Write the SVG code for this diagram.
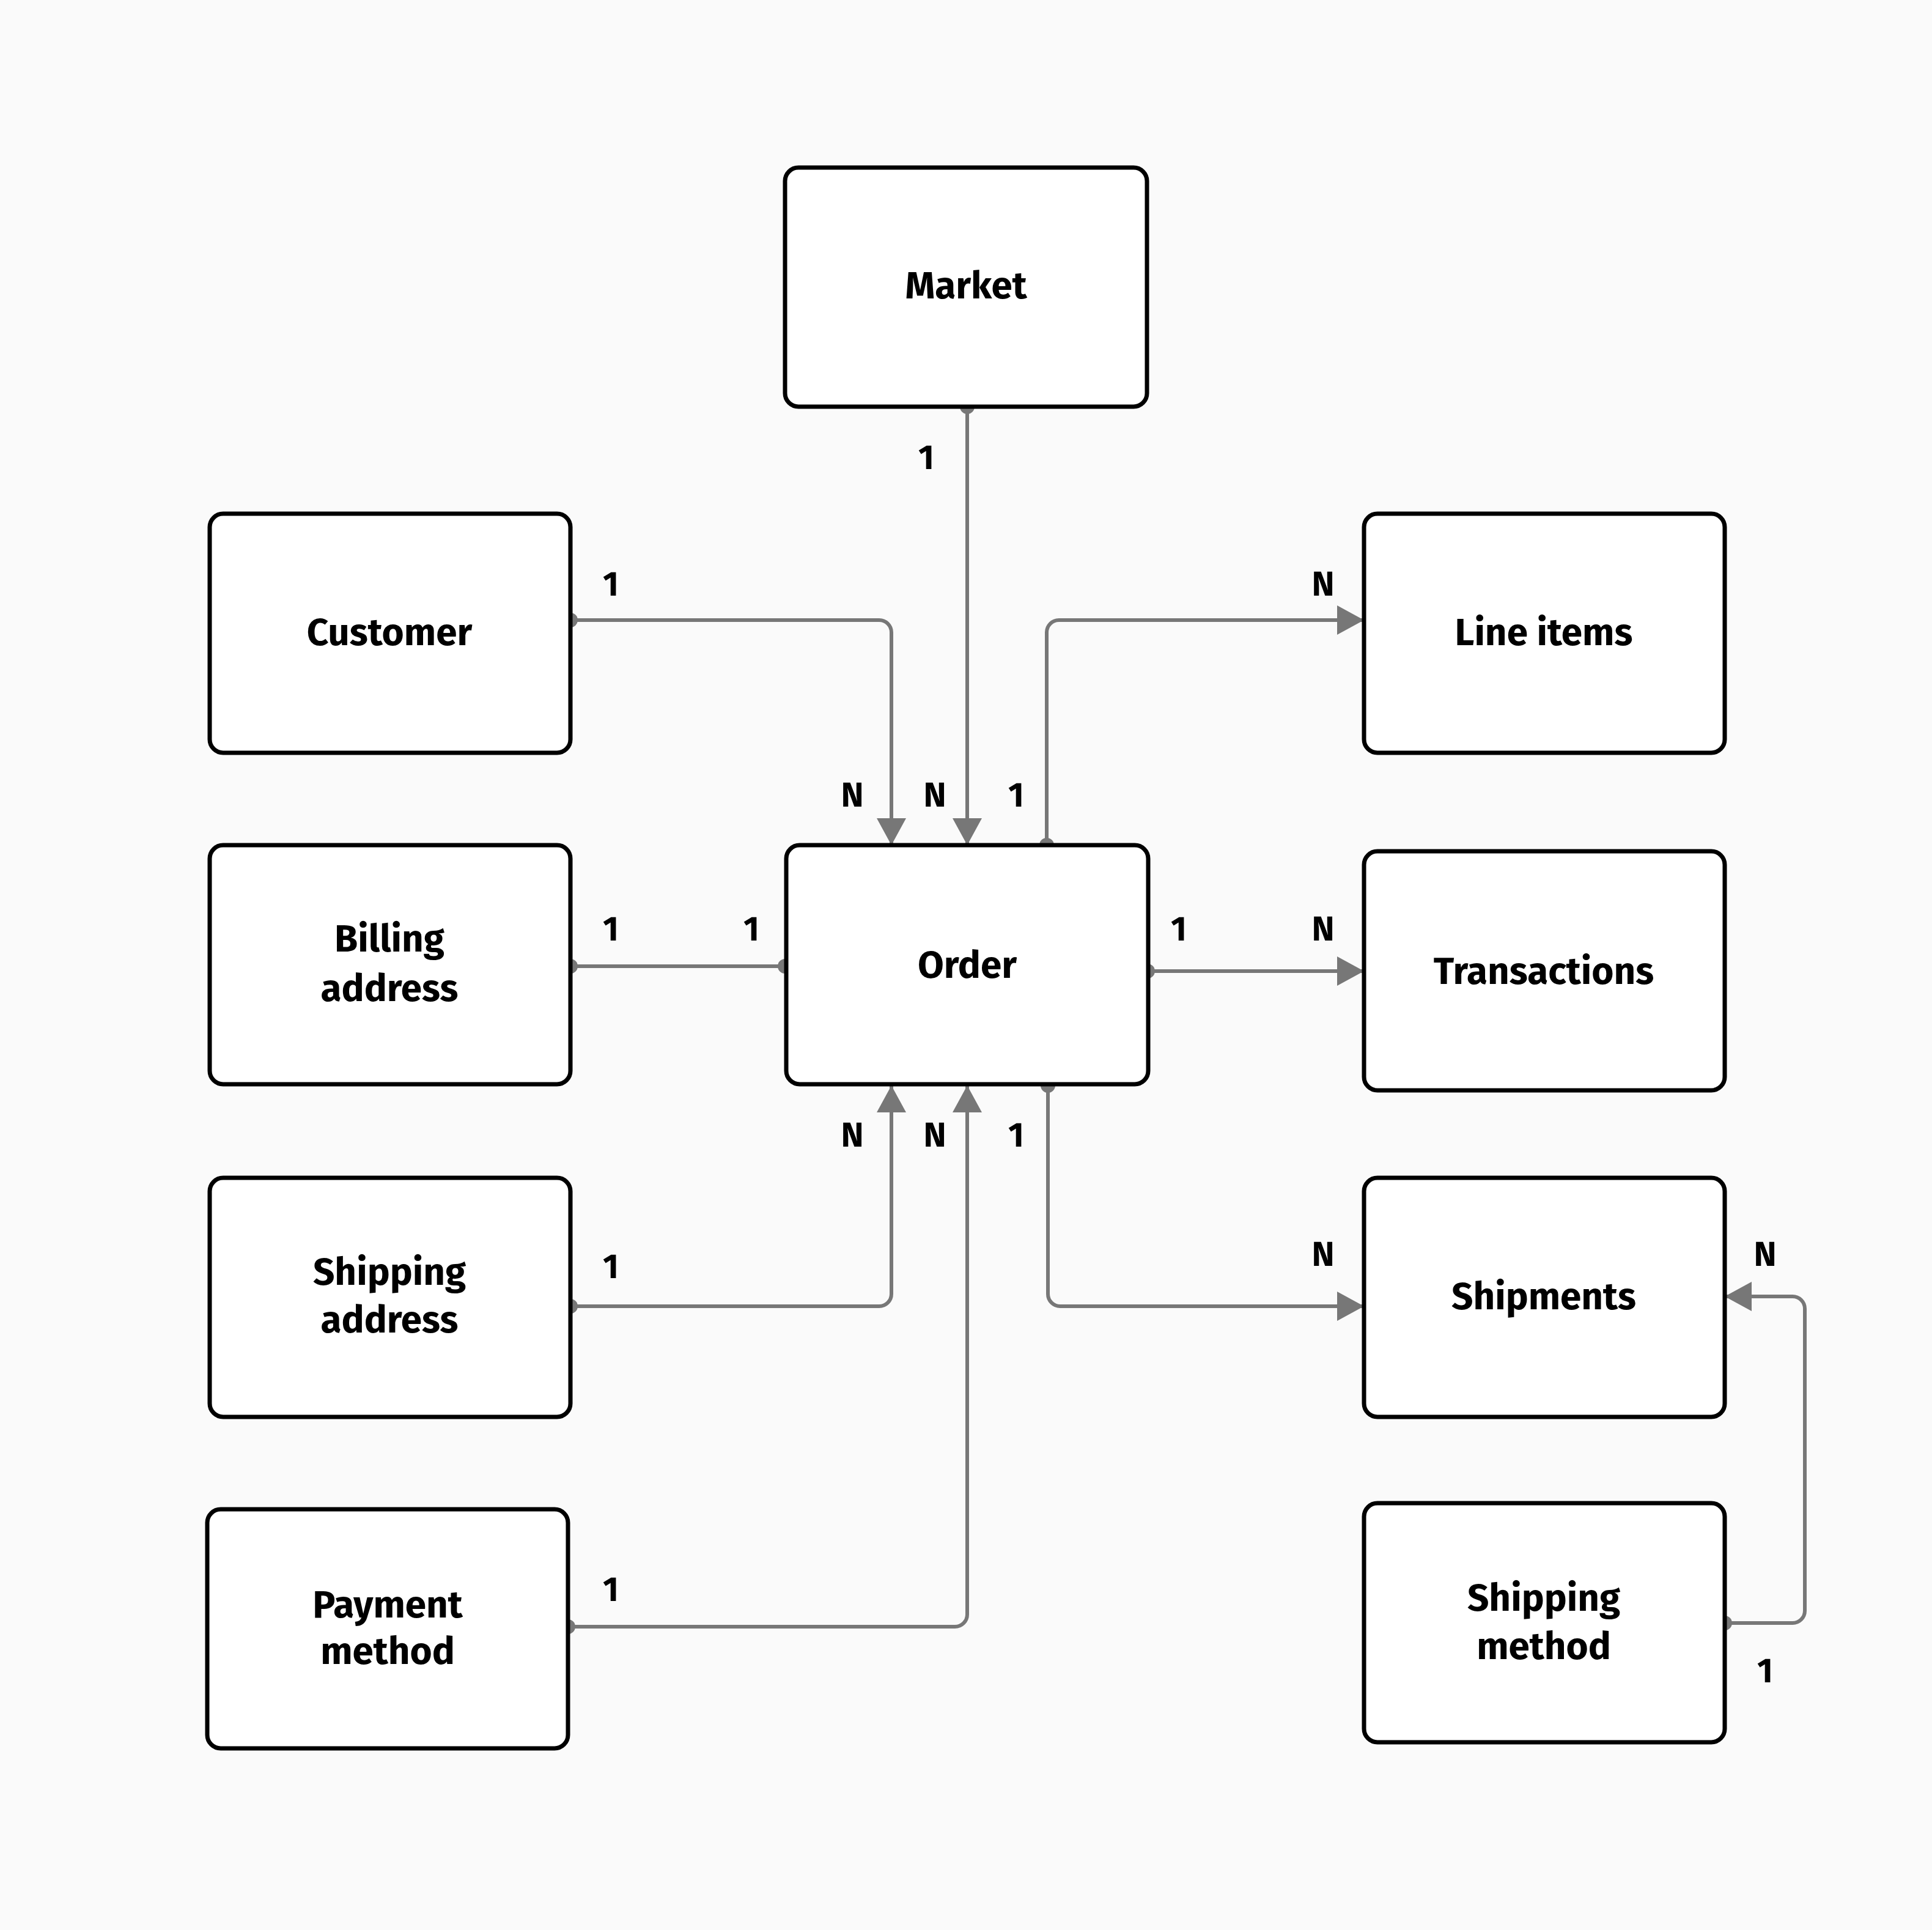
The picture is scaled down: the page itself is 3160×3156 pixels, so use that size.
<svg xmlns="http://www.w3.org/2000/svg" width="3160" height="3156" viewBox="0 0 3160 3156">
<style>
.n rect{fill:#fff;stroke:#000;stroke-width:7}
.n text{font-family:"Fira Sans","Noto Sans","Open Sans",sans-serif;font-weight:700;font-size:62px;text-anchor:middle;dominant-baseline:central;fill:#000}
.c path{fill:none;stroke:#777;stroke-width:6}
.c circle{fill:#777}
.l text{font-family:"Fira Sans","Noto Sans","Open Sans",sans-serif;font-weight:700;font-size:56px;text-anchor:middle;dominant-baseline:central;fill:#000}
</style>
<defs>
<marker id="a" markerUnits="userSpaceOnUse" markerWidth="44" markerHeight="48" viewBox="0 0 44 48" refX="44" refY="24" orient="auto"><path d="M0,0L44,24L0,48Z" fill="#777"/></marker>
</defs>
<rect width="3160" height="3156" fill="#fafafa"/>
<g class="c">
<path d="M1582,665V1382" marker-end="url(#a)"/><circle cx="1582" cy="665" r="12"/>
<path d="M933,1014H1438a20,20 0 0 1 20,20V1382" marker-end="url(#a)"/><circle cx="933" cy="1014" r="12"/>
<path d="M1712,1382V1034a20,20 0 0 1 20,-20H2231" marker-end="url(#a)"/><circle cx="1712" cy="1382" r="12"/>
<path d="M933,1580H1284"/><circle cx="933" cy="1580" r="12"/><circle cx="1284" cy="1580" r="12"/>
<path d="M1877,1588H2231" marker-end="url(#a)"/><circle cx="1877" cy="1588" r="12"/>
<path d="M933,2136H1438a20,20 0 0 0 20,-20V1775" marker-end="url(#a)"/><circle cx="933" cy="2136" r="12"/>
<path d="M929,2660H1562a20,20 0 0 0 20,-20V1775" marker-end="url(#a)"/><circle cx="929" cy="2660" r="12"/>
<path d="M1714,1775V2116a20,20 0 0 0 20,20H2231" marker-end="url(#a)"/><circle cx="1714" cy="1775" r="12"/>
<path d="M2821,2654H2932a20,20 0 0 0 20,-20V2140a20,20 0 0 0 -20,-20H2821" marker-end="url(#a)"/><circle cx="2821" cy="2654" r="12"/>
</g>
<g class="n" id="market"><rect x="1284" y="274" width="592" height="391" rx="22"/><text x="1580" y="467">Market</text></g>
<g class="n" id="order"><rect x="1286" y="1382" width="592" height="391" rx="22"/><text x="1582" y="1578">Order</text></g>
<g class="n" id="customer"><rect x="343" y="840" width="590" height="391" rx="22"/><text x="637" y="1034">Customer</text></g>
<g class="n" id="billing"><rect x="343" y="1382" width="590" height="391" rx="22"/><text x="637" y="1535">Billing</text><text x="637" y="1616">address</text></g>
<g class="n" id="shipaddr"><rect x="343" y="1926" width="590" height="391" rx="22"/><text x="637" y="2080">Shipping</text><text x="637" y="2158">address</text></g>
<g class="n" id="payment"><rect x="339" y="2468" width="590" height="391" rx="22"/><text x="634" y="2624">Payment</text><text x="634" y="2700">method</text></g>
<g class="n" id="lineitems"><rect x="2231" y="840" width="590" height="391" rx="22"/><text x="2525" y="1034">Line items</text></g>
<g class="n" id="transactions"><rect x="2231" y="1392" width="590" height="391" rx="22"/><text x="2525" y="1588">Transactions</text></g>
<g class="n" id="shipments"><rect x="2231" y="1926" width="590" height="391" rx="22"/><text x="2525" y="2120">Shipments</text></g>
<g class="n" id="shipmethod"><rect x="2231" y="2458" width="590" height="391" rx="22"/><text x="2525" y="2613">Shipping</text><text x="2525" y="2692">method</text></g>
<g class="l">
<text x="1515" y="748">1</text>
<text x="999" y="955">1</text>
<text x="1394" y="1300">N</text><text x="1529" y="1300">N</text><text x="1662" y="1300">1</text>
<text x="2164" y="955">N</text>
<text x="999" y="1519">1</text><text x="1229" y="1519">1</text>
<text x="1928" y="1519">1</text><text x="2164" y="1519">N</text>
<text x="1394" y="1856">N</text><text x="1529" y="1856">N</text><text x="1662" y="1856">1</text>
<text x="999" y="2071">1</text>
<text x="2164" y="2051">N</text><text x="2887" y="2051">N</text>
<text x="999" y="2599">1</text>
<text x="2887" y="2732">1</text>
</g>
</svg>
